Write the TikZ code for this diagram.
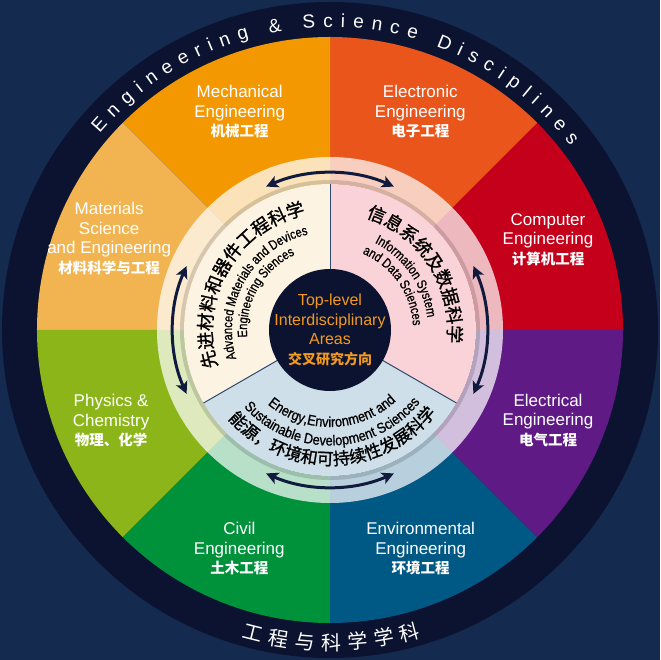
\documentclass[tikz,border=0pt]{standalone}
\usepackage{fontspec}
\setmainfont{Liberation Sans}
\newfontfamily\cjk{Noto Sans CJK SC}
\newfontfamily\cjkmid[FakeBold=1.2]{Noto Sans CJK SC}
\newfontfamily\narrowA[FakeStretch=0.82,FakeBold=0.8]{Liberation Sans}
\newfontfamily\narrowB[FakeStretch=0.88,FakeBold=0.8]{Liberation Sans}
\usetikzlibrary{decorations.text,arrows.meta}
\definecolor{bgnavy}{HTML}{142A4E}
\definecolor{ringnavy}{HTML}{0B1331}
\definecolor{mechorange}{HTML}{F39800}
\definecolor{electorange}{HTML}{E9551A}
\definecolor{compred}{HTML}{C4001B}
\definecolor{elecpurple}{HTML}{601A85}
\definecolor{envblue}{HTML}{005985}
\definecolor{civilgreen}{HTML}{00913B}
\definecolor{physgreen}{HTML}{8BB519}
\definecolor{matorange}{HTML}{F2B450}
\definecolor{areacream}{HTML}{FDF3E2}
\definecolor{areapink}{HTML}{F9D3D7}
\definecolor{areablue}{HTML}{CFDFE9}
\definecolor{coreorange}{HTML}{F29A1E}
\definecolor{arrownavy}{HTML}{101A3C}
\definecolor{sepblue}{HTML}{2E4A6B}
\newcommand{\zhlabel}[1]{{\cjk\bfseries\fontsize{14.5}{19.5}\selectfont #1}}
\begin{document}
\begin{tikzpicture}[
    disc/.style={text=white, align=center, font=\fontsize{17}{19.5}\selectfont},
    coretext/.style={text=coreorange, align=center, font=\fontsize{16}{19.5}\selectfont},
    cyclearrow/.style={arrownavy, line width=3pt,
        {Stealth[length=12pt,width=12pt,inset=3pt]}-{Stealth[length=12pt,width=12pt,inset=3pt]}},
    sepline/.style={sepblue, line width=1pt}
  ]
    \useasboundingbox (-330pt,-330pt) rectangle (330pt,330pt);
    \fill[bgnavy] (-330pt,-330pt) rectangle (330pt,330pt);
    \fill[ringnavy] (0,0) circle[radius=328pt];

    \foreach \a/\col in {0/compred, 45/electorange, 90/mechorange, 135/matorange,
                         180/physgreen, 225/civilgreen, 270/envblue, 315/elecpurple}
        \fill[\col] (0,0) -- (\a:293pt) arc[start angle=\a, end angle=\a+45, radius=293pt] -- cycle;

    \node[disc] (comp) at (22.5:236pt) {Computer\\Engineering\\\zhlabel{计算机工程}};
    \node[disc] (elctr) at (67.5:236pt) {Electronic\\Engineering\\\zhlabel{电子工程}};
    \node[disc] (mech) at (112.5:236pt) {Mechanical\\Engineering\\\zhlabel{机械工程}};
    \node[disc] (mat) at (157.5:239pt) {Materials\\Science\\and Engineering\\\zhlabel{材料科学与工程}};
    \node[disc] (phys) at (202.5:237pt) {Physics \&\\Chemistry\\\zhlabel{物理、化学}};
    \node[disc] (civil) at (247.5:237pt) {Civil\\Engineering\\\zhlabel{土木工程}};
    \node[disc] (env) at (292.5:237pt) {Environmental\\Engineering\\\zhlabel{环境工程}};
    \node[disc] (elec) at (337.5:236pt) {Electrical\\Engineering\\\zhlabel{电气工程}};

    \fill[white, opacity=.72, even odd rule] (0,0) circle[radius=173pt] circle[radius=146pt];
    \draw[black, opacity=.15, line width=4pt] (0,0) circle[radius=148pt];
    \foreach \a in {0,90,180,270}
        \draw[cyclearrow] (\a+24:157pt) arc[start angle=\a+24, end angle=\a-24, radius=157pt];

    \fill[areacream] (0,0) -- (90:146pt) arc[start angle=90, end angle=210, radius=146pt] -- cycle;
    \fill[areapink] (0,0) -- (-30:146pt) arc[start angle=-30, end angle=90, radius=146pt] -- cycle;
    \fill[areablue] (0,0) -- (210:146pt) arc[start angle=210, end angle=330, radius=146pt] -- cycle;
    \foreach \a in {90,210,330}
        \draw[sepline] (0,0) -- (\a:146pt);
    \fill[ringnavy] (0,0) circle[radius=61pt];
    \node[coretext] (core) at (0,0) {Top-level\\Interdisciplinary\\Areas\\{\cjk\bfseries\fontsize{14}{19.5}\selectfont 交叉研究方向}};

    \path[decorate, decoration={text along path, text align=center,
        text={|\cjkmid\fontsize{18}{20}\selectfont|先进材料和器件工程科学}}]
        (215:118pt) arc[start angle=215, end angle=85, radius=118pt];
    \path[decorate, decoration={text along path, text align=center,
        text={|\narrowA\fontsize{13.5}{15}\selectfont|Advanced Materials and Devices}}]
        (215:98pt) arc[start angle=215, end angle=85, radius=98pt];
    \path[decorate, decoration={text along path, text align=center,
        text={|\narrowA\fontsize{13.5}{15}\selectfont|Engineering Siences}}]
        (215:83pt) arc[start angle=215, end angle=85, radius=83pt];

    \path[decorate, decoration={text along path, text align=center,
        text={|\cjkmid\fontsize{18}{20}\selectfont|信息系统及数据科学}}]
        (98:118pt) arc[start angle=98, end angle=-32, radius=118pt];
    \path[decorate, decoration={text along path, text align=center,
        text={|\narrowA\fontsize{13.5}{15}\selectfont|Information System}}]
        (100:98pt) arc[start angle=100, end angle=-30, radius=98pt];
    \path[decorate, decoration={text along path, text align=center,
        text={|\narrowA\fontsize{13.5}{15}\selectfont|and Data Sciences}}]
        (100:83pt) arc[start angle=100, end angle=-30, radius=83pt];

    \path[decorate, decoration={text along path, text align=center,
        text={|\cjkmid\fontsize{17}{20}\selectfont|能源，环境和可持续性发展科学}}]
        (200:135pt) arc[start angle=200, end angle=343, radius=135pt];
    \path[decorate, decoration={text along path, text align=center,
        text={|\narrowB\fontsize{14.5}{16}\selectfont|Sustainable Development Sciences}}]
        (200:115.5pt) arc[start angle=200, end angle=343, radius=115.5pt];
    \path[decorate, decoration={text along path, text align=center,
        text={|\narrowB\fontsize{14.5}{16}\selectfont|Energy,Environment and}}]
        (200:97pt) arc[start angle=200, end angle=343, radius=97pt];

    \path[decorate, decoration={text along path, text align=fit to path,
        text={|\fontsize{19}{22}\selectfont\color{white}|Engineering {\&} Science Disciplines}}]
        (139.5:303pt) arc[start angle=139.5, end angle=37.5, radius=303pt];
    \path[decorate, decoration={text along path, text align=fit to path,
        text={|\cjk\fontsize{20}{22}\selectfont\color{white}|工程与科学学科}}]
        (254:320pt) arc[start angle=254, end angle=286.5, radius=320pt];
\end{tikzpicture}
\end{document}
